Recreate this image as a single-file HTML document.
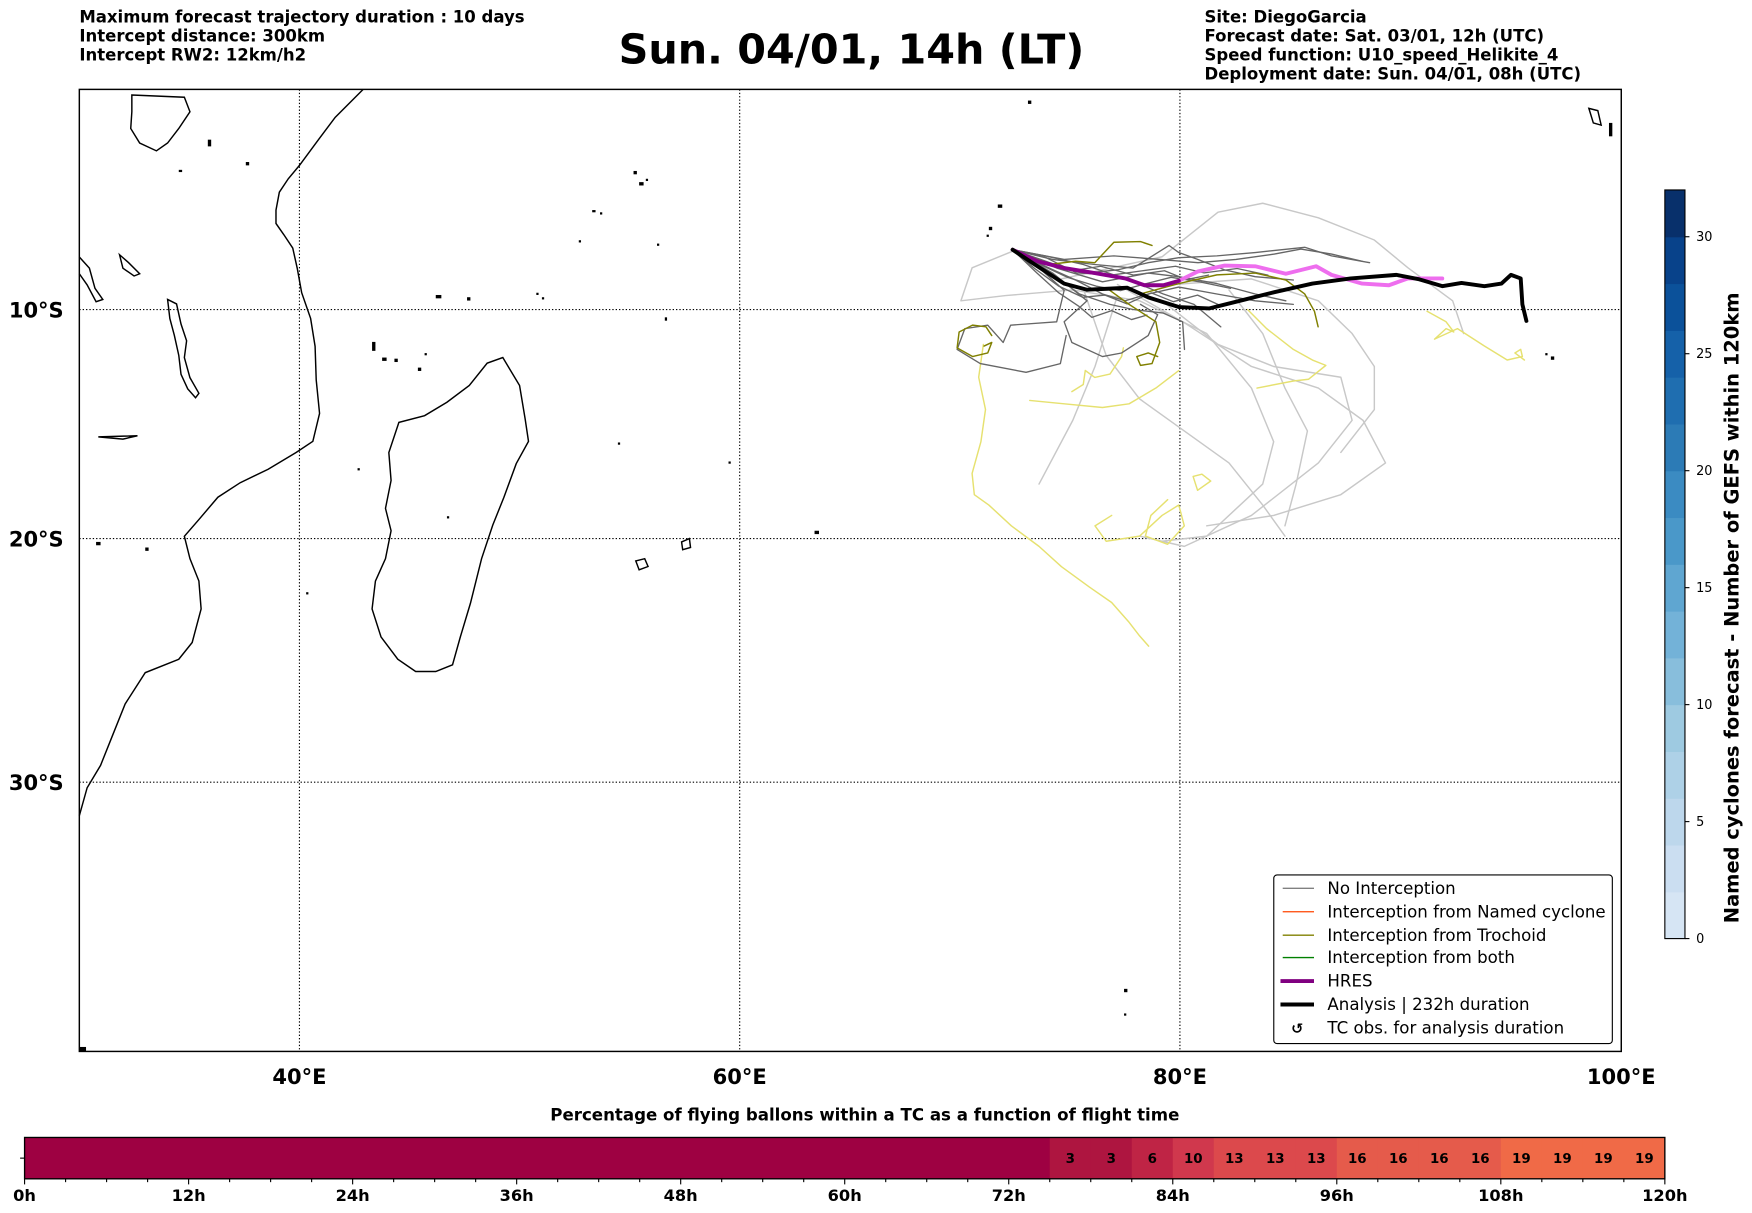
<!DOCTYPE html>
<html><head><meta charset="utf-8"><style>
body{margin:0;background:#fff}
svg{display:block}
text{font-family:"DejaVu Sans","Liberation Sans",sans-serif}
</style></head><body>
<svg id="chartroot" width="1752" height="1213" viewBox="0 0 1568 1085.6" xmlns="http://www.w3.org/2000/svg">
<g font-weight="bold" font-size="14.8">
<text x="71" y="20">Maximum forecast trajectory duration : 10 days</text>
<text x="71" y="37">Intercept distance: 300km</text>
<text x="71" y="54">Intercept RW2: 12km/h2</text>
<text x="762" y="57" text-anchor="middle" font-size="37">Sun. 04/01, 14h (LT)</text>
<text x="1078" y="20">Site: DiegoGarcia</text>
<text x="1078" y="37">Forecast date: Sat. 03/01, 12h (UTC)</text>
<text x="1078" y="54">Speed function: U10_speed_Helikite_4</text>
<text x="1078" y="71">Deployment date: Sun. 04/01, 08h (UTC)</text>
</g>
<g>
<rect x="71" y="80" width="1380" height="861" fill="#fff"/>
<g fill="none" stroke="#000" stroke-width="1.3">
<path d="M325,80 L300,105 L285,125 L268,148 L258,160 L250,172 L247,188 L247,200 L254,210 L262,222 L266,240 L270,262 L278,285 L282,310 L283,340 L286,370 L280,395 L265,405 L240,420 L215,432 L195,445 L178,465 L165,480 L170,500 L178,520 L180,545 L172,575 L160,590 L130,602 L112,630 L100,660 L90,685 L78,705 L71,730"/>
<path d="M450,320 L456,330 L465,345 L470,375 L473,395 L462,415 L451,445 L441,470 L431,500 L421,540 L412,570 L405,595 L390,601 L372,601 L356,590 L341,570 L333,545 L336,520 L345,500 L350,475 L345,455 L350,430 L348,405 L357,378 L380,372 L400,360 L420,345 L436,325 Z"/>
<path d="M150,268 L158,272 L162,290 L167,305 L165,320 L170,338 L178,352 L175,356 L168,348 L162,335 L160,318 L156,300 L152,285 Z"/>
<path d="M71,230 L80,240 L85,258 L92,268 L86,270 L78,255 L71,245"/>
<path d="M118,85 L165,87 L170,100 L160,115 L150,128 L140,135 L125,128 L117,115 L118,100 Z"/>
<path d="M107,228 L115,235 L125,245 L120,247 L110,240 Z"/>
<path d="M88,391 L123,390 L110,393 Z"/>
<path d="M610,485 L617,482 L618,490 L611,492 Z"/>
<path d="M569,502 L577,500 L580,507 L572,510 Z"/>
<path d="M1422,97 L1430,99 L1433,112 L1426,110 Z"/>
</g>
<g fill="#000">
<rect x="920" y="90" width="3" height="3"/><rect x="893" y="183" width="4" height="3"/><rect x="885" y="203" width="3" height="3"/><rect x="883" y="210" width="2" height="2"/>
<rect x="567" y="153" width="3" height="3"/><rect x="572" y="163" width="4" height="3"/><rect x="578" y="160" width="2" height="2"/><rect x="530" y="188" width="3" height="2"/><rect x="537" y="190" width="2" height="2"/><rect x="518" y="215" width="2" height="2"/><rect x="588" y="218" width="2" height="2"/>
<rect x="390" y="264" width="5" height="3"/><rect x="418" y="266" width="3" height="3"/><rect x="480" y="262" width="2" height="2"/><rect x="485" y="266" width="2" height="2"/><rect x="595" y="284" width="2" height="3"/>
<rect x="333" y="306" width="3" height="8"/><rect x="342" y="320" width="4" height="3"/><rect x="353" y="321" width="3" height="3"/><rect x="374" y="329" width="3" height="3"/><rect x="380" y="316" width="2" height="2"/>
<rect x="1383" y="316" width="2" height="2"/><rect x="1388" y="319" width="3" height="3"/><rect x="1440" y="110" width="3" height="12"/>
<rect x="553" y="396" width="2" height="2"/><rect x="652" y="413" width="2" height="2"/><rect x="729" y="475" width="4" height="3"/><rect x="1006" y="885" width="3" height="3"/><rect x="1006" y="907" width="2" height="2"/>
<rect x="320" y="419" width="2" height="2"/><rect x="400" y="462" width="2" height="2"/><rect x="130" y="490" width="3" height="3"/><rect x="86" y="485" width="4" height="3"/><rect x="274" y="530" width="2" height="2"/><rect x="71" y="937" width="6" height="4"/>
<rect x="160" y="152" width="3" height="2"/><rect x="186" y="125" width="3" height="6"/><rect x="220" y="145" width="3" height="3"/>
</g>
<g stroke="#000" stroke-width="1" stroke-dasharray="1.2,1.8">
<line x1="268" y1="80" x2="268" y2="941"/>
<line x1="662" y1="80" x2="662" y2="941"/>
<line x1="1056" y1="80" x2="1056" y2="941"/>
<line x1="71" y1="277" x2="1451" y2="277"/>
<line x1="71" y1="482" x2="1451" y2="482"/>
<line x1="71" y1="700" x2="1451" y2="700"/>
</g>
<g id="trajlayer" fill="none" stroke-linejoin="round" stroke-linecap="round"></g>
<rect x="71" y="80" width="1380" height="861" fill="none" stroke="#000" stroke-width="1.3"/>
</g>
<g font-weight="bold" font-size="18.8">
<text x="57" y="284" text-anchor="end">10°S</text>
<text x="57" y="489" text-anchor="end">20°S</text>
<text x="57" y="707" text-anchor="end">30°S</text>
<text x="268" y="970" text-anchor="middle">40°E</text>
<text x="662" y="970" text-anchor="middle">60°E</text>
<text x="1056" y="970" text-anchor="middle">80°E</text>
<text x="1451" y="970" text-anchor="middle">100°E</text>
</g>
<g font-size="14.9">
<rect x="1140" y="783" width="303" height="151" rx="3" fill="#fff" stroke="#000" stroke-width="1"/>
<line x1="1148" y1="795" x2="1176" y2="795" stroke="#808080" stroke-width="1.2"/><text x="1188" y="800">No Interception</text>
<line x1="1148" y1="816" x2="1176" y2="816" stroke="#ff4500" stroke-width="1.2"/><text x="1188" y="821">Interception from Named cyclone</text>
<line x1="1148" y1="837" x2="1176" y2="837" stroke="#808000" stroke-width="1.2"/><text x="1188" y="842">Interception from Trochoid</text>
<line x1="1148" y1="857" x2="1176" y2="857" stroke="#008000" stroke-width="1.2"/><text x="1188" y="862">Interception from both</text>
<line x1="1146" y1="878" x2="1176" y2="878" stroke="#800080" stroke-width="3.5"/><text x="1188" y="883">HRES</text>
<line x1="1146" y1="899" x2="1176" y2="899" stroke="#000" stroke-width="3.5"/><text x="1188" y="904">Analysis | 232h duration</text>
<text x="1161" y="925" text-anchor="middle" font-weight="bold" font-size="13">↺</text><text x="1188" y="925">TC obs. for analysis duration</text>
</g>
<g id="cbarlayer"></g>
<text transform="translate(1556,544) rotate(-90)" text-anchor="middle" font-weight="bold" font-size="17.4">Named cyclones forecast - Number of GEFS within 120km</text>
<text x="774" y="1003" text-anchor="middle" font-weight="bold" font-size="14.9">Percentage of flying ballons within a TC as a function of flight time</text>
<g id="hbarlayer"></g>
</svg>
<script>
var analysisLon=[72.40,73.53,74.74,75.78,76.82,77.61,78.56,79.95,81.34,82.72,84.29,86.02,87.76,89.84,90.88,91.92,92.79,93.83,94.61,95.04,95.48,95.56,95.74];
var analysisLat=[7.30,8.05,8.83,9.11,9.06,9.02,9.45,9.89,9.95,9.61,9.22,8.83,8.60,8.44,8.64,8.95,8.80,8.95,8.83,8.44,8.60,9.77,10.51];
var hresLon=[72.40,73.53,74.74,76.13,77.52,78.39,79.25,79.95,80.82,82.03,83.42,84.81,86.19,86.89,88.28,89.49,90.36,91.92];
var hresLat=[7.30,7.82,8.13,8.36,8.60,8.91,8.91,8.71,8.28,8.02,8.05,8.39,8.05,8.44,8.83,8.91,8.60,8.60];
var hresSplitIndex=7;
var noInterceptionTracks=[
 [[72.40,74.05,75.78,77.17,78.56,79.95,81.68,83.42,85.67,86.89,88.62],[7.30,7.89,8.36,8.21,7.89,7.66,7.58,7.43,7.19,7.58,7.89]],
 [[72.40,73.88,75.26,76.48,77.52,78.56,79.95,81.68,83.42,85.15],[7.30,8.05,8.67,9.30,9.61,9.30,8.99,9.30,9.61,9.77]],
 [[72.40,73.70,74.74,74.40,72.31,71.97,71.27,70.23,69.88,70.93,73.01,74.57,74.83],[7.30,8.21,9.14,10.55,10.70,11.48,10.70,10.86,11.79,12.42,12.81,12.42,11.17]],
 [[72.40,74.22,76.13,77.87,79.51,79.95,80.82,82.03,83.42,85.15],[7.30,7.74,7.97,8.13,7.11,7.43,7.74,8.21,8.52,8.67]],
 [[72.40,74.22,75.78,74.74,75.09,76.48,77.35,78.56,78.99,78.21],[7.30,8.36,9.61,10.55,11.48,12.11,11.95,11.17,10.23,9.77]],
 [[72.40,74.40,76.48,78.56,79.95,81.68,83.42,84.81],[7.30,8.13,8.75,8.36,8.52,8.83,9.30,9.61]],
 [[72.40,74.05,75.44,76.82,77.87,79.25,80.12,80.21],[7.30,8.28,9.30,9.77,10.0,10.16,10.55,11.79]],
 [[72.40,74.74,77.0,79.08,80.82,82.55,84.29,85.50,86.89,88.28],[7.30,7.74,7.58,7.74,7.89,7.74,7.50,7.27,7.50,7.82]],
 [[72.40,73.88,75.61,77.69,79.25,80.64,81.86],[7.30,7.58,7.97,8.67,9.30,9.77,10.78]],
 [[72.40,73.6,74.9,76.2,77.3,78.4,79.6,80.9,82.3],[7.30,7.95,8.55,8.95,9.15,8.85,8.55,8.75,9.05]],
 [[72.40,73.4,74.5,75.6,76.6,77.6,78.7,79.7,80.8,81.9],[7.30,8.15,8.95,9.45,9.35,9.75,9.25,9.65,9.35,9.85]],
 [[72.40,73.7,75.1,76.4,77.9,79.3,80.3,81.3],[7.30,7.75,8.25,8.05,8.45,8.25,8.65,8.45]],
 [[72.40,73.5,74.5,75.4,76.0,76.9,77.8,78.5],[7.30,8.35,9.25,9.85,10.35,10.05,10.45,10.25]],
 [[72.40,73.9,75.3,76.9,78.3,79.8,81.1,82.6,84.0],[7.30,7.65,8.35,8.45,8.25,8.05,8.35,8.15,8.45]]
];
var otherTracks=[
 [[72.39,70.56,70.05,72.08,75.13,78.17,81.22,83.25,84.26,83.76,81.22,79.19],[7.37,8.12,9.61,9.37,9.12,9.61,11.08,13.51,15.88,17.73,19.98,20.2]],
 [[74.62,79.19,81.73,83.76,86.29,88.83,90.36,92.39,92.89],[8.62,7.62,5.6,5.19,5.85,6.86,8.12,9.61,11.08]],
 [[77.16,80.2,83.25,86.29,88.32,89.34,87.31,84.26,81.22],[8.87,10.59,12.55,13.51,14.94,16.81,18.19,19.09,19.54]],
 [[75.63,76.65,78.17,80.2,82.23,83.76,84.77],[9.12,12.06,13.99,15.41,16.81,18.64,19.98]],
 [[77.16,76.14,75.13,73.6],[9.37,12.55,14.94,17.73]],
 [[79.19,81.73,84.26,87.31,87.82,86.29,83.25,80.2,78.17],[9.61,11.57,12.55,13.03,14.94,16.81,19.09,20.42,19.98]],
 [[79.7,83.25,86.29,87.82,88.83,88.83,87.31],[8.87,8.62,9.61,11.08,12.55,14.46,16.35]],
 [[82.23,83.76,84.77,85.79,85.28,84.77],[9.12,11.08,13.51,15.41,17.73,19.54]]
];
var trochoidTracks=[
 [[72.40,74.05,75.26,76.13,77.0,78.21,78.73],[7.30,7.97,7.82,7.89,6.96,6.93,7.11]],
 [[71.45,71.19,70.58,69.97,69.88,70.58,71.27,71.45,71.10],[11.17,10.78,10.70,11.01,11.72,12.11,11.95,11.48,11.64]],
 [[76.82,77.69,78.91,79.08,78.73,78.21,78.04,78.56,78.99],[9.14,9.77,10.55,11.48,12.42,12.50,12.11,11.95,12.11]],
 [[78.21,79.95,81.68,83.42,84.81,85.67,86.11,86.28],[9.30,8.83,8.44,8.36,8.67,9.30,10.08,10.78]]
];
var yellowTracks=[
 [[71.07,70.86,71.17,70.96,70.56,70.66,71.32,72.34,73.6,74.62,75.89,76.9,77.66,78.17,78.58],[11.57,13.03,14.46,15.88,17.27,18.19,18.64,19.54,20.42,21.29,22.15,22.8,23.6,24.2,24.63]],
 [[75.09,75.61,75.70,76.13,76.82,77.35,77.43],[13.67,13.35,12.73,13.04,12.89,12.11,11.72]],
 [[73.18,74.74,76.48,77.69,78.91,79.95],[14.06,14.21,14.37,14.21,13.51,12.73]],
 [[83.07,83.94,85.15,86.02,86.63,85.85,85.15,83.5],[10.0,10.86,11.79,12.26,12.5,13.12,13.2,13.51]],
 [[91.23,92.09,92.44,92.09,91.57,92.61,93.83,94.87,95.56,95.48,95.22,95.65],[10.08,10.55,11.01,10.86,11.33,10.86,11.64,12.26,12.11,11.79,11.95,12.26]],
 [[79.44,78.68,78.43,79.44,80.2,79.95,79.19,78.17,76.65,76.14,76.9],[18.41,19.09,19.98,20.33,19.54,18.64,19.09,19.98,20.2,19.54,19.09]],
 [[81.0,81.4,80.8,80.6,81.0],[17.3,17.6,18.0,17.4,17.3]]
];
var cbarTicks=[0,5,10,15,20,25,30];
var cbarMax=32;
var flightHours=[0,75,78,81,84,87,90,93,96,99,102,105,108,111,114,117];
var flightPct=[0,3,3,6,10,13,13,13,16,16,16,16,19,19,19,19];
var flightTickLabels=["0h","12h","24h","36h","48h","60h","72h","84h","96h","108h","120h"];

var SVGNS="http://www.w3.org/2000/svg";
function projX(lon){return 71+(lon-30)*19.7;}
function projY(lat){return 80+1123*Math.log(Math.tan(Math.PI/4+lat*Math.PI/360));}
function mkEl(tag,attrs,parent){var e=document.createElementNS(SVGNS,tag);for(var k in attrs){e.setAttribute(k,String(attrs[k]));}parent.appendChild(e);return e;}
function trackD(lons,lats){var s='';for(var i=0;i<lons.length;i++){s+=(i?'L':'M')+projX(lons[i]).toFixed(1)+','+projY(lats[i]).toFixed(1)+' ';}return s;}

try{
var trajG=document.getElementById('trajlayer');
otherTracks.forEach(function(t){var p=mkEl('path',{d:trackD(t[0],t[1]),stroke:'#c8c8c8','stroke-width':1.3},trajG);

});
yellowTracks.forEach(function(t){var p=mkEl('path',{d:trackD(t[0],t[1]),stroke:'#e6e170','stroke-width':1.3},trajG);

});
noInterceptionTracks.forEach(function(t){var p=mkEl('path',{d:trackD(t[0],t[1]),stroke:'#666666','stroke-width':1.2},trajG);

});
trochoidTracks.forEach(function(t){var p=mkEl('path',{d:trackD(t[0],t[1]),stroke:'#808000','stroke-width':1.3},trajG);

});
var hLate=mkEl('path',{d:trackD(hresLon.slice(hresSplitIndex),hresLat.slice(hresSplitIndex)),stroke:'#ee6eee','stroke-width':3.5},trajG);


var hEarly=mkEl('path',{d:trackD(hresLon.slice(0,hresSplitIndex+1),hresLat.slice(0,hresSplitIndex+1)),stroke:'#8b008b','stroke-width':3.5},trajG);


var anPath=mkEl('path',{d:trackD(analysisLon,analysisLat),stroke:'#000000','stroke-width':3.5},trajG);


}catch(e){}

try{
var cbG=document.getElementById('cbarlayer');
var cbTop=170,cbBot=840,cbX=1490,cbW=18;
function cbY(v){return cbBot-(v/cbarMax)*(cbBot-cbTop);}
var cbColors=['#d6e5f4','#cbdef1','#bdd7ec','#aed1e7','#9ecae1','#88bedc','#73b2d8','#5fa6d1','#4a98c9','#3b8bc2','#2c7bb6','#1f6eb0','#1561a9','#0b519a','#08428a','#08306b'];
for(var i=0;i<16;i++){var r=mkEl('rect',{x:cbX,y:cbY(2*i+2),width:cbW,height:cbY(2*i)-cbY(2*i+2)+0.5,fill:cbColors[i]},cbG);

}
var cbFrame=mkEl('rect',{x:cbX,y:cbTop,width:cbW,height:cbBot-cbTop,fill:'none',stroke:'#000','stroke-width':1},cbG);


cbarTicks.forEach(function(v){mkEl('line',{x1:cbX+cbW,x2:cbX+cbW+4,y1:cbY(v),y2:cbY(v),stroke:'#000'},cbG);
var tx=mkEl('text',{x:cbX+cbW+10,y:cbY(v)+4,'font-size':11.5},cbG);tx.textContent=String(v);

});
}catch(e){}

try{
var hbG=document.getElementById('hbarlayer');
var bx0=22,bx1=1490,bTop=1018,bBot=1055;
function barX(h){return bx0+(h/120)*(bx1-bx0);}
var pctColor={'0':'#9e0142','3':'#ae1540','6':'#bf2445','10':'#d0384d','13':'#dc494c','16':'#e55b4b','19':'#f06a47'};
flightHours.forEach(function(h,i){var h2=i+1<flightHours.length?flightHours[i+1]:120;
var cell=mkEl('rect',{x:barX(h),y:bTop,width:barX(h2)-barX(h)+0.3,height:bBot-bTop,fill:pctColor[String(flightPct[i])]||'#9e0142'},hbG);


if(flightPct[i]>0){var lt=mkEl('text',{x:(barX(h)+barX(h2))/2,y:bTop+23,'text-anchor':'middle','font-size':12,'font-weight':'bold'},hbG);lt.textContent=String(flightPct[i]);

}});
var hbFrame=mkEl('rect',{x:bx0,y:bTop,width:bx1-bx0,height:bBot-bTop,fill:'none',stroke:'#000','stroke-width':1.2},hbG);


mkEl('line',{x1:bx0-4,x2:bx0,y1:(bTop+bBot)/2,y2:(bTop+bBot)/2,stroke:'#000'},hbG);
for(var hh=0;hh<=120;hh+=3){mkEl('line',{x1:barX(hh),x2:barX(hh),y1:bBot,y2:bBot+(hh%12===0?5:3),stroke:'#000'},hbG);}
flightTickLabels.forEach(function(l,i){var tl=mkEl('text',{x:barX(i*12),y:bBot+20,'text-anchor':'middle','font-size':14.5,'font-weight':'bold'},hbG);tl.textContent=l;

});
}catch(e){}
</script>
</body></html>
